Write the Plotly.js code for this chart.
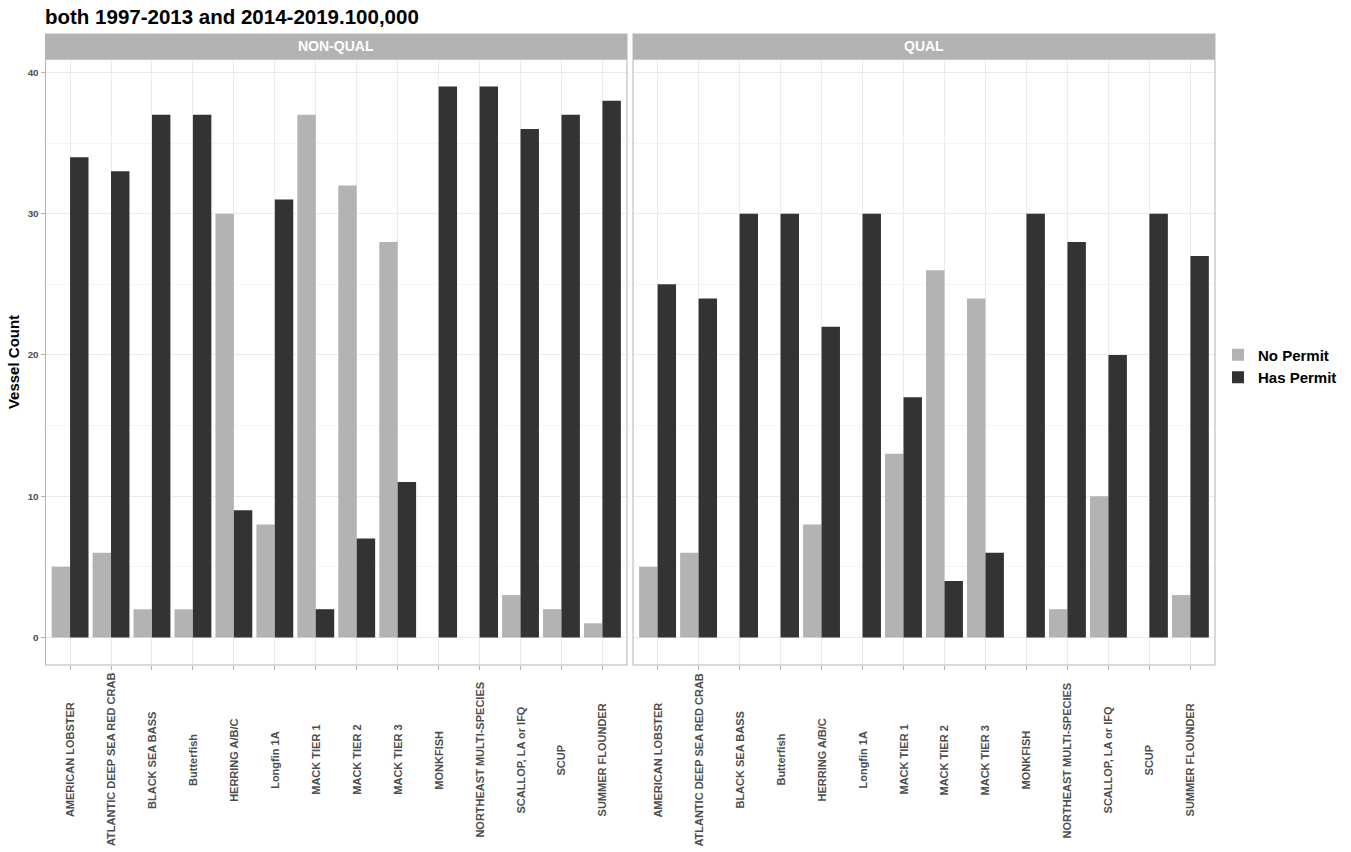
<!DOCTYPE html>
<html>
<head>
<meta charset="utf-8">
<script src="https://cdn.plot.ly/plotly-3.0.1.min.js"></script>
<style>html,body{margin:0;padding:0;background:#fff}#chart{width:1351px;height:852px}</style>
</head>
<body>
<div id="chart"></div>
<script>
const categories = ["AMERICAN LOBSTER","ATLANTIC DEEP SEA RED CRAB","BLACK SEA BASS","Butterfish","HERRING A/B/C","Longfin 1A","MACK TIER 1","MACK TIER 2","MACK TIER 3","MONKFISH","NORTHEAST MULTI-SPECIES","SCALLOP, LA or IFQ","SCUP","SUMMER FLOUNDER"];
const panels = ["NON-QUAL","QUAL"];
const seriesNames = ["No Permit","Has Permit"];
const nonQualNoPermit = [5,6,2,2,30,8,37,32,28,0,0,3,2,1];
const nonQualHasPermit = [34,33,37,37,9,31,2,7,11,39,39,36,37,38];
const qualNoPermit = [5,6,0,0,8,0,13,26,24,0,2,10,0,3];
const qualHasPermit = [25,24,30,30,22,30,17,4,6,30,28,20,30,27];
const yTicks = [0,10,20,30,40];

const colors = {"No Permit":"#B3B3B3","Has Permit":"#333333"};
const FONT = 'Liberation Sans, Arial, sans-serif';
const W = 1351, H = 852;
const px = v => v / W, py = v => 1 - v / H;

const dataSets = [[nonQualNoPermit, nonQualHasPermit],[qualNoPermit, qualHasPermit]];
const traces = [];
dataSets.forEach((pair, pi) => {
  pair.forEach((vals, si) => {
    traces.push({
      type: 'bar', x: categories, y: vals, name: seriesNames[si],
      xaxis: pi === 0 ? 'x' : 'x2', yaxis: pi === 0 ? 'y' : 'y2',
      marker: {color: colors[seriesNames[si]], line: {width: 0}},
      legendgroup: seriesNames[si], showlegend: pi === 0,
      offsetgroup: String(si), hoverinfo: 'x+y+name'
    });
  });
});

const panelLeft = [45.5, 633], panelRight = [627, 1215];
const panelTop = 59, panelBottom = 665, stripTop = 34;
const xaxisBase = {
  type: 'category', range: [-0.6, categories.length - 0.4],
  showgrid: true, gridcolor: '#EBEBEB', gridwidth: 1, zeroline: false,
  ticks: 'outside', ticklen: 4, tickcolor: '#B3B3B3', tickwidth: 1,
  showticklabels: false, showline: false, fixedrange: true, automargin: false
};
const yaxisBase = {
  range: [-1.95, 40.95], tickvals: yTicks, showgrid: true, gridcolor: '#EBEBEB', gridwidth: 1,
  zeroline: false, ticks: 'outside', ticklen: 4, tickcolor: '#B3B3B3', tickwidth: 1,
  tickfont: {family: FONT, size: 9.8, color: '#4D4D4D', weight: 'bold'},
  showline: false, fixedrange: true, automargin: false,
  minor: {tick0: 5, dtick: 10, showgrid: true, gridcolor: '#F5F5F5', gridwidth: 1, ticks: ''},
  domain: [py(panelBottom), py(panelTop)]
};

const shapes = [], annotations = [];
for (let i = 0; i < 2; i++) {
  shapes.push({type: 'rect', xref: 'paper', yref: 'paper', x0: px(panelLeft[i]), x1: px(panelRight[i]),
    y0: py(panelBottom), y1: py(panelTop), line: {color: '#B3B3B3', width: 1}, fillcolor: 'rgba(0,0,0,0)', layer: 'above'});
  shapes.push({type: 'rect', xref: 'paper', yref: 'paper', x0: px(panelLeft[i]), x1: px(panelRight[i]),
    y0: py(panelTop), y1: py(stripTop), line: {color: '#B3B3B3', width: 1}, fillcolor: '#B3B3B3'});
  annotations.push({xref: 'paper', yref: 'paper', x: px((panelLeft[i] + panelRight[i]) / 2), y: py((panelTop + stripTop) / 2),
    text: panels[i], showarrow: false, xanchor: 'center', yanchor: 'middle',
    font: {family: FONT, size: 14, color: '#FFFFFF', weight: 'bold'}});
  categories.forEach(c => {
    annotations.push({xref: i === 0 ? 'x' : 'x2', yref: 'paper', x: c, y: py(760),
      text: c, textangle: -90, showarrow: false, xanchor: 'center', yanchor: 'middle',
      font: {family: FONT, size: 11, color: '#4D4D4D', weight: 'bold'}});
  });
}

const layout = {
  width: W, height: H, paper_bgcolor: '#FFFFFF', plot_bgcolor: '#FFFFFF',
  margin: {l: 0, r: 0, t: 0, b: 0},
  barmode: 'group', bargap: 0.1, bargroupgap: 0,
  title: {text: 'both 1997-2013 and 2014-2019.100,000', x: px(45), xref: 'container', xanchor: 'left',
    y: py(17), yref: 'container', yanchor: 'middle',
    font: {family: FONT, size: 20.5, color: '#000000', weight: 'bold'}},
  xaxis: Object.assign({}, xaxisBase, {domain: [px(panelLeft[0]), px(panelRight[0])], anchor: 'y'}),
  xaxis2: Object.assign({}, xaxisBase, {domain: [px(panelLeft[1]), px(panelRight[1])], anchor: 'y2'}),
  yaxis: Object.assign({}, yaxisBase, {anchor: 'x',
    title: {text: 'Vessel Count', standoff: 4, font: {family: FONT, size: 15, color: '#000000', weight: 'bold'}}}),
  yaxis2: Object.assign({}, yaxisBase, {anchor: 'x2', showticklabels: false, ticks: ''}),
  showlegend: true,
  legend: {x: px(1218), y: py(366), xanchor: 'left', yanchor: 'middle', traceorder: 'normal',
    font: {family: FONT, size: 15, color: '#000000', weight: 'bold'},
    bgcolor: 'rgba(0,0,0,0)', itemsizing: 'constant', tracegroupgap: 0},
  shapes: shapes, annotations: annotations
};

Plotly.newPlot('chart', traces, layout, {displayModeBar: false, staticPlot: true});
</script>
</body>
</html>
